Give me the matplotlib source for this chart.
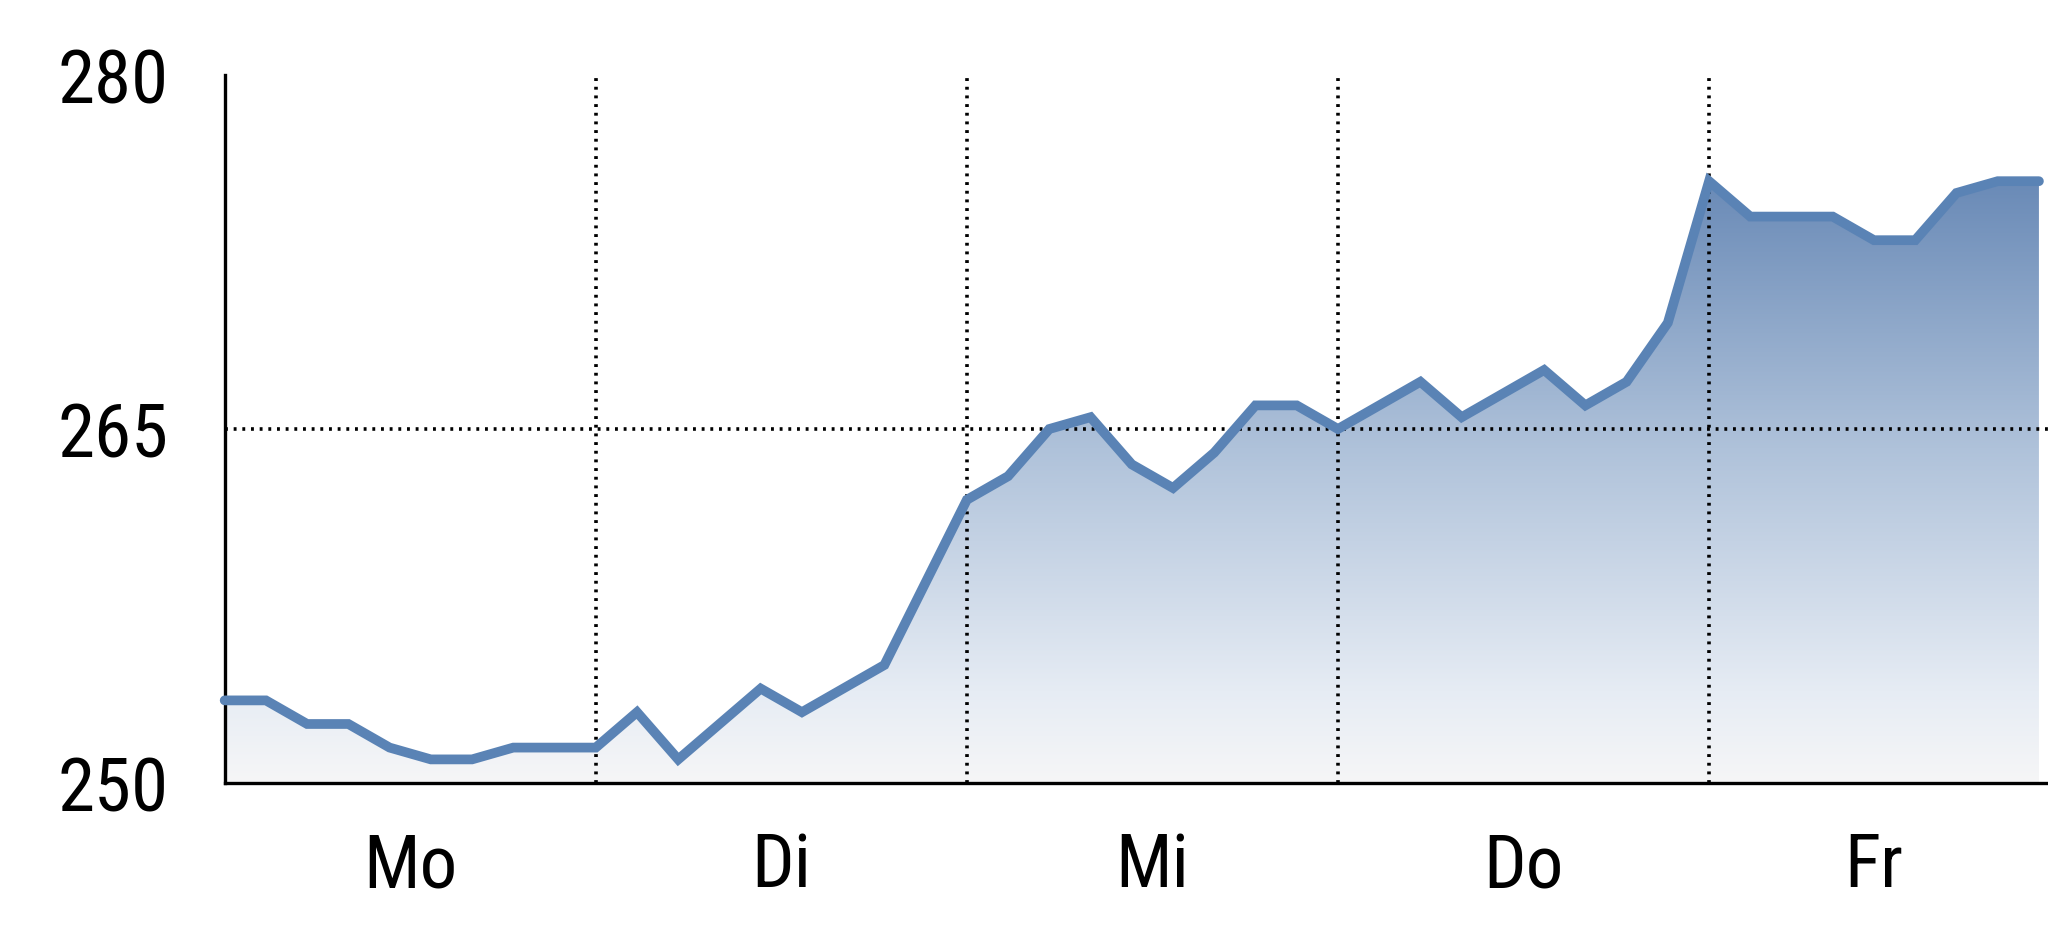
import numpy as np
import matplotlib.pyplot as plt
from matplotlib.colors import LinearSegmentedColormap

# Kursverlauf, 9 Punkte pro Tag
values = [253.5, 253.5, 252.5, 252.5, 251.5, 251.0, 251.0, 251.5, 251.5,
          251.5, 253.0, 251.0, 252.5, 254.0, 253.0, 254.0, 255.0, 258.5,
          262.0, 263.0, 265.0, 265.5, 263.5, 262.5, 264.0, 266.0, 266.0,
          265.0, 266.0, 267.0, 265.5, 266.5, 267.5, 266.0, 267.0, 269.5,
          275.5, 274.0, 274.0, 274.0, 273.0, 273.0, 275.0, 275.5, 275.5]
day_labels = ['Mo', 'Di', 'Mi', 'Do', 'Fr']
day_bounds = [9, 18, 27, 36]
label_pos = [4.5, 13.5, 22.5, 31.5, 40.0]
y_ticks = [250, 265, 280]

plt.rcParams['font.family'] = ['Roboto Condensed', 'Liberation Sans', 'DejaVu Sans']

x = np.arange(len(values))
y = np.array(values)

fig = plt.figure(figsize=(20.48, 9.37), dpi=100)
ax = fig.add_axes([0.1097, 0.1633, 0.8903, 0.7556])

ax.set_xlim(0, 44.22)
ax.set_ylim(250, 280)

# gradient fill under the line
cmap = LinearSegmentedColormap.from_list('g', [(0.0, '#f6f6f7'), (0.15, '#e6ecf4'),
                                               (0.55, '#afc2da'), (1.0, '#6889b6')])
grad = np.linspace(0, 1, 256).reshape(-1, 1)
img = ax.imshow(grad, extent=[0, x[-1], 250, max(values) + 0.3], origin='lower',
                aspect='auto', cmap=cmap, zorder=1)
poly = ax.fill_between(x, y, 250, color='none', lw=0)
img.set_clip_path(poly.get_paths()[0], transform=ax.transData)

ax.plot(x, y, color='#5a83b5', lw=7, solid_joinstyle='miter', solid_capstyle='round',
        zorder=3, clip_on=False)

# gridlines
dots = (0, (0.8, 1.6))
for b in day_bounds:
    ax.plot([b, b], [250, 280], color='black', lw=2.6, ls=dots, zorder=2)
ax.axhline(265, color='black', lw=2.6, ls=dots, zorder=2)

for s in ['top', 'right']:
    ax.spines[s].set_visible(False)
ax.spines['left'].set_linewidth(2.4)
ax.spines['bottom'].set_linewidth(2.4)

ax.set_yticks(y_ticks)
ax.set_yticklabels([str(t) for t in y_ticks], fontsize=54)
ax.set_xticks(label_pos)
ax.set_xticklabels(day_labels, fontsize=54)
ax.tick_params(axis='y', length=0, pad=40)
ax.tick_params(axis='x', length=0, pad=34)

fig.savefig('out.png', dpi=100)
